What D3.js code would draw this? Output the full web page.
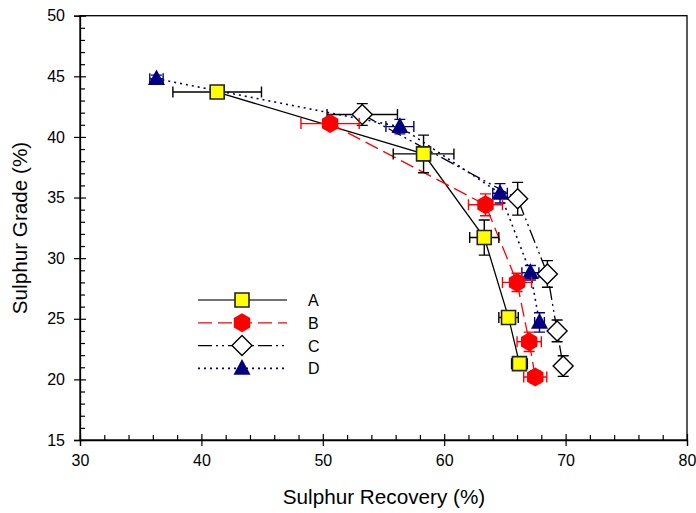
<!DOCTYPE html>
<html>
<head>
<meta charset="utf-8">
<script src="https://cdn.jsdelivr.net/npm/d3@7"></script>
<style>
body { margin: 0; background: #fff; }
svg text { font-family: "Liberation Sans", Arial, sans-serif; fill: #000; }
</style>
</head>
<body>
<div id="chart"></div>
<script>
// series values: recovery (x), grade (y), error half-widths
let seriesNames = ["A", "B", "C", "D"];
let recoveryA = [41.3, 58.3, 63.3, 65.3, 66.2];
let gradeA = [43.7, 38.6, 31.7, 25.1, 21.3];
let recErrA = [3.65, 2.5, 1.2, 0.8, 0.65];
let gradeErrA = [0.3, 1.55, 1.45, 0.4, 0.4];

let recoveryB = [50.6, 63.4, 66.0, 67.0, 67.5];
let gradeB = [41.1, 34.4, 28.0, 23.1, 20.2];
let recErrB = [2.4, 1.4, 1.2, 1.0, 0.95];
let gradeErrB = [0.4, 0.9, 0.75, 0.8, 0.5];

let recoveryC = [53.25, 66.05, 68.5, 69.3, 69.8];
let gradeC = [41.85, 34.9, 28.7, 24.0, 21.1];
let recErrC = [2.9, 0.3, 0.3, 0.3, 0.3];
let gradeErrC = [0.9, 1.35, 1.1, 0.9, 0.85];

let recoveryD = [36.3, 56.35, 64.6, 67.1, 67.85];
let gradeD = [44.8, 40.85, 35.35, 28.8, 24.7];
let recErrD = [0.55, 1.15, 0.6, 0.7, 0.4];
let gradeErrD = [0.3, 0.6, 0.8, 0.6, 0.8];

let xTicks = [30, 40, 50, 60, 70, 80];
let yTicks = [15, 20, 25, 30, 35, 40, 45, 50];

let width = 696, height = 513;
let svg = d3.select("#chart").append("svg")
    .attr("width", width)
    .attr("height", height);

let x = d3.scaleLinear().domain([30, 80]).range([80, 687]);
let y = d3.scaleLinear().domain([15, 50]).range([440, 15.7]);

// marker shapes
function squarePath(s) { return "M" + (-s) + "," + (-s) + "H" + s + "V" + s + "H" + (-s) + "Z"; }
function diamondPath(s) { return "M0," + (-s) + "L" + s + ",0L0," + s + "L" + (-s) + ",0Z"; }
function trianglePath(s) { return "M0," + (-s * 1.1) + "L" + s + "," + (s * 0.75) + "L" + (-s) + "," + (s * 0.75) + "Z"; }
function hexPath(r) {
    let pts = d3.range(6).map(i => {
        let a = Math.PI / 2 + i * Math.PI / 3;
        return [r * Math.cos(a), r * Math.sin(a)];
    });
    return d3.line()(pts) + "Z";
}

let styles = {
    A: { line: "#000", dash: null, lw: 1.3, err: "#000", path: squarePath(7), fill: "#ffff00", stroke: "#222", sw: 1.6 },
    B: { line: "#ff0000", dash: "14,6", lw: 1.3, err: "#ff0000", path: hexPath(9.5), fill: "#ff0000", stroke: "none", sw: 0 },
    C: { line: "#000", dash: "14,4,2,4,2,4", lw: 1.3, err: "#000", path: diamondPath(10), fill: "#fff", stroke: "#000", sw: 1.4 },
    D: { line: "#000080", dash: "2,4", lw: 1.6, err: "#000080", path: trianglePath(8.5), fill: "#000080", stroke: "none", sw: 0 }
};

let series = [
    { name: "A", xs: recoveryA, ys: gradeA, xe: recErrA, ye: gradeErrA },
    { name: "B", xs: recoveryB, ys: gradeB, xe: recErrB, ye: gradeErrB },
    { name: "C", xs: recoveryC, ys: gradeC, xe: recErrC, ye: gradeErrC },
    { name: "D", xs: recoveryD, ys: gradeD, xe: recErrD, ye: gradeErrD }
];

// frame
svg.append("rect")
    .attr("x", x(30)).attr("y", y(50))
    .attr("width", x(80) - x(30)).attr("height", y(15) - y(50))
    .attr("fill", "none").attr("stroke", "#000").attr("stroke-width", 1.3);

// axes: minor ticks inward, major ticks cross the axis
let xMinor = d3.range(30, 81, 2).filter(v => v % 10 != 0);
let yMinor = d3.range(15, 51, 1).filter(v => v % 5 != 0);

let xg = svg.append("g").attr("transform", "translate(0," + y(15) + ")");
xg.call(d3.axisBottom(x).tickValues(xTicks).tickSize(6).tickPadding(9).tickFormat(d3.format("d")));
xg.call(g => g.selectAll(".tick").append("line").attr("y2", -6).attr("stroke", "#000"));
svg.append("g").attr("transform", "translate(0," + y(15) + ")")
    .call(d3.axisBottom(x).tickValues(xMinor).tickSize(-5).tickFormat(""))
    .call(g => g.select(".domain").remove());

let yg = svg.append("g").attr("transform", "translate(" + x(30) + ",0)");
yg.call(d3.axisLeft(y).tickValues(yTicks).tickSize(6).tickPadding(9).tickFormat(d3.format("d")));
yg.call(g => g.selectAll(".tick").append("line").attr("x2", 6).attr("stroke", "#000"));
svg.append("g").attr("transform", "translate(" + x(30) + ",0)")
    .call(d3.axisLeft(y).tickValues(yMinor).tickSize(-5).tickFormat(""))
    .call(g => g.select(".domain").remove());

svg.selectAll(".domain").attr("stroke-width", 1.3);
svg.selectAll(".tick line").attr("stroke-width", 1.2);
svg.selectAll(".tick text").style("font-size", "16px").style("font-family", "Liberation Sans, Arial, sans-serif");

// axis titles
svg.append("text")
    .attr("x", 384).attr("y", 504)
    .attr("text-anchor", "middle")
    .style("font-size", "20.7px")
    .text("Sulphur Recovery (%)");
svg.append("text")
    .attr("transform", "translate(27,228) rotate(-90)")
    .attr("text-anchor", "middle")
    .style("font-size", "20.7px")
    .text("Sulphur Grade (%)");

// connecting lines
let line = d3.line().x(d => x(d[0])).y(d => y(d[1]));
series.forEach(s => {
    let st = styles[s.name];
    svg.append("path")
        .datum(s.xs.map((v, i) => [v, s.ys[i]]))
        .attr("d", line)
        .attr("fill", "none")
        .attr("stroke", st.line)
        .attr("stroke-width", st.lw)
        .attr("stroke-dasharray", st.dash);
});

// error bars and markers
let cap = 5.5;
["D", "C", "B", "A"].forEach(name => {
    let s = series.find(d => d.name == name);
    let st = styles[name];
    let pts = s.xs.map((v, i) => ({ x: v, y: s.ys[i], xe: s.xe[i], ye: s.ye[i] }));
    let eg = svg.append("g").attr("stroke", st.err).attr("stroke-width", 1.4).attr("fill", "none");
    pts.forEach(p => {
        let cx = x(p.x), cy = y(p.y);
        let x0 = x(p.x - p.xe), x1 = x(p.x + p.xe);
        let y0 = y(p.y - p.ye), y1 = y(p.y + p.ye);
        eg.append("path").attr("d",
            "M" + x0 + "," + cy + "H" + x1 +
            "M" + x0 + "," + (cy - cap) + "V" + (cy + cap) +
            "M" + x1 + "," + (cy - cap) + "V" + (cy + cap) +
            "M" + cx + "," + y0 + "V" + y1 +
            "M" + (cx - cap) + "," + y0 + "H" + (cx + cap) +
            "M" + (cx - cap) + "," + y1 + "H" + (cx + cap));
    });
    svg.append("g").selectAll("path").data(pts).enter().append("path")
        .attr("transform", d => "translate(" + x(d.x) + "," + y(d.y) + ")")
        .attr("d", st.path)
        .attr("fill", st.fill)
        .attr("stroke", st.stroke)
        .attr("stroke-width", st.sw);
});

// legend
let legend = svg.append("g").attr("transform", "translate(198,300)");
seriesNames.forEach((name, i) => {
    let st = styles[name];
    let row = legend.append("g").attr("transform", "translate(0," + (i * 22.8) + ")");
    row.append("line")
        .attr("x1", 0).attr("x2", 89)
        .attr("stroke", name == "A" ? "#444" : st.line)
        .attr("stroke-width", st.lw)
        .attr("stroke-dasharray", st.dash);
    row.append("path")
        .attr("transform", "translate(44,0)")
        .attr("d", st.path)
        .attr("fill", st.fill)
        .attr("stroke", st.stroke)
        .attr("stroke-width", st.sw);
    row.append("text")
        .attr("x", 110).attr("y", 6)
        .style("font-size", "16px")
        .text(name);
});
</script>
</body>
</html>
